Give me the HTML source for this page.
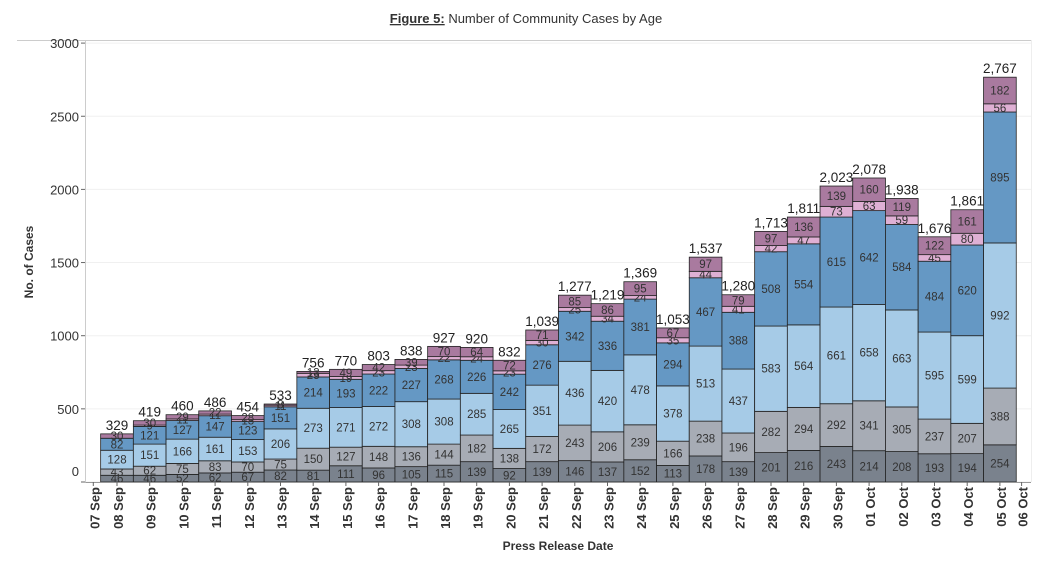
<!DOCTYPE html>
<html><head><meta charset="utf-8"><style>
body{margin:0;background:#fff;font-family:"Liberation Sans",sans-serif}
svg text{font-family:"Liberation Sans",sans-serif}
</style></head><body>
<svg id="chart" width="1053" height="563" xmlns="http://www.w3.org/2000/svg">
<text x="526" y="23" text-anchor="middle" font-size="13" fill="#333"><tspan font-weight="bold" text-decoration="underline">Figure 5:</tspan> Number of Community Cases by Age</text>
<line x1="17" y1="40.5" x2="1032" y2="40.5" stroke="#ccc"/>
<line x1="1031.5" y1="40" x2="1031.5" y2="482" stroke="#eee"/>
<text transform="translate(33,262) rotate(-90)" text-anchor="middle" font-size="12" font-weight="bold" fill="#333">No. of Cases</text>
<text x="558" y="550" text-anchor="middle" font-size="12" font-weight="bold" fill="#333">Press Release Date</text>
<g id="grid"></g><g id="bars"></g><g id="axes"></g>
</svg>
<script>
const dates=["08 Sep","09 Sep","10 Sep","11 Sep","12 Sep","13 Sep","14 Sep","15 Sep","16 Sep","17 Sep","18 Sep","19 Sep","20 Sep","21 Sep","22 Sep","23 Sep","24 Sep","25 Sep","26 Sep","27 Sep","28 Sep","29 Sep","30 Sep","01 Oct","02 Oct","03 Oct","04 Oct","05 Oct"];
const ageA=[46,46,52,62,67,82,81,111,96,105,115,139,92,139,146,137,152,113,178,139,201,216,243,214,208,193,194,254];
const ageB=[43,62,75,83,70,75,150,127,148,136,144,182,138,172,243,206,239,166,238,196,282,294,292,341,305,237,207,388];
const ageC=[128,151,166,161,153,206,273,271,272,308,308,285,265,351,436,420,478,378,513,437,583,564,661,658,663,595,599,992];
const ageD=[82,121,127,147,123,151,214,193,222,227,268,226,242,276,342,336,381,294,467,388,508,554,615,642,584,484,620,895];
const ageE=[0,9,11,11,13,11,25,19,23,23,22,24,23,30,25,34,24,35,44,41,42,47,73,63,59,45,80,56];
const ageF=[30,30,29,22,28,8,13,49,42,39,70,64,72,71,85,86,95,67,97,79,97,136,139,160,119,122,161,182];
const totals=[329,419,460,486,454,533,756,770,803,838,927,920,832,1039,1277,1219,1369,1053,1537,1280,1713,1811,2023,2078,1938,1676,1861,2767];
const yTicks=[0,500,1000,1500,2000,2500,3000];
const series=[ageA,ageB,ageC,ageD,ageE,ageF];
const colors=["#7a828d","#a7acb5","#a6cbe7","#6598c4","#dfb0d4","#a97a9f"];
const NS="http://www.w3.org/2000/svg";
const y0=482,k=0.1463,x0=117,step=32.7,bw=32.7;
const Y=v=>y0-v*k, X=i=>x0+i*step;
function el(t,a,p){const e=document.createElementNS(NS,t);for(const q in a)e.setAttribute(q,a[q]);p.appendChild(e);return e;}
const grid=document.getElementById('grid'),bars=document.getElementById('bars'),axes=document.getElementById('axes');
yTicks.forEach(v=>{
 const g=el('line',{x1:86,x2:1031,y1:Y(v),y2:Y(v),stroke:"#f0f0f0"},grid);
 
 
 const t=el('text',{x:79,y:Y(v)+(v==0?-6:5),"text-anchor":"end","font-size":13,fill:"#333"},axes);
 t.textContent=v;
 
 
 const tk=el('line',{x1:81,x2:86,y1:Y(v),y2:Y(v),stroke:"#666"},axes);
 
 
});
const ax=el('line',{x1:85.5,x2:85.5,y1:41,y2:482,stroke:"#ccc"},axes);


const bx=el('line',{x1:86,x2:1031,y1:482.5,y2:482.5,stroke:"#999"},axes);


dates.forEach((d,i)=>{
 let cum=0;const cx=X(i);
 series.forEach((s,j)=>{
  const v=s[i];const yt=Y(cum+v),yb=Y(cum);
  const r=el('rect',{x:cx-bw/2,y:yt,width:bw,height:Math.max(yb-yt,0),fill:colors[j],stroke:"#222","stroke-width":0.8},bars);
  
  
  if(v>0){
   const t=el('text',{x:cx,y:(yt+yb)/2+4,"text-anchor":"middle","font-size":11.5,fill:"#333"},bars);
   t.textContent=v;
   
   
  }
  cum+=v;
 });
 const tt=el('text',{x:cx,y:Y(totals[i])-4,"text-anchor":"middle","font-size":13.5,fill:"#222"},bars);
 tt.textContent=totals[i].toLocaleString('en-US');
 
 
});
const xl=[{t:"07 Sep",x:X(0)-step+10}].concat(dates.map((d,i)=>({t:d,x:X(i)+1}))).concat([{t:"06 Oct",x:X(27)+step-10}]);
xl.forEach(o=>{
 const t=el('text',{transform:`translate(${o.x+5},487) rotate(-90)`,"text-anchor":"end","font-size":13,"font-weight":"bold",fill:"#333"},axes);
 t.textContent=o.t;
 
 
 const tk=el('line',{x1:o.x-1,x2:o.x-1,y1:482,y2:486,stroke:"#666"},axes);
 
 
});
</script>
</body></html>
